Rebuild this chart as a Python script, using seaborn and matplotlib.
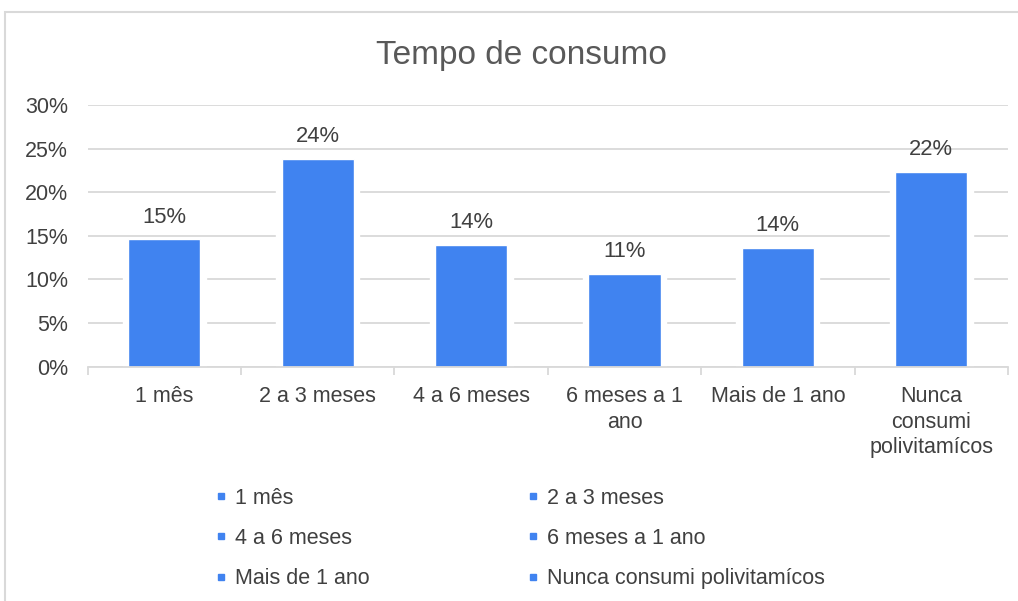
import matplotlib
matplotlib.use("Agg")
import matplotlib.pyplot as plt
from matplotlib.lines import Line2D
from matplotlib.patches import Rectangle
from matplotlib.ticker import PercentFormatter, FixedLocator
import seaborn as sns
import pandas as pd

# Data
categories = ["1 mês", "2 a 3 meses", "4 a 6 meses", "6 meses a 1 ano",
              "Mais de 1 ano", "Nunca consumi polivitamícos"]
tick_labels = ["1 mês", "2 a 3 meses", "4 a 6 meses", "6 meses a 1\nano",
               "Mais de 1 ano", "Nunca\nconsumi\npolivitamícos"]
shares = [0.146, 0.238, 0.140, 0.106, 0.136, 0.223]

title = "Tempo de consumo"
bar_color = "#4083F0"
text_color = "#404040"
grid_color = "#D9D9D9"

sns.set_theme(style="white")
plt.rcParams["font.family"] = ["Liberation Sans", "DejaVu Sans"]

df = pd.DataFrame({"categoria": categories, "valor": shares})

fig = plt.figure(figsize=(10.18, 6.01), dpi=100)
ax = fig.add_axes([0.0861, 0.3899, 0.904, 0.4354])

# white halo behind each bar so gridlines stop short of the bars
sns.barplot(data=df, x="categoria", y="valor", color="white", width=0.54,
            saturation=1, ax=ax, zorder=2)
sns.barplot(data=df, x="categoria", y="valor", color=bar_color, width=0.47,
            saturation=1, ax=ax, zorder=3)

bars = ax.containers[1]
ax.bar_label(bars, labels=[f"{v:.0%}" for v in shares], padding=8.5,
             fontsize=15.8, color=text_color, zorder=4)

ax.set_ylim(0, 0.30)
ax.set_xlim(-0.5, len(categories) - 0.5)
ax.yaxis.set_major_formatter(PercentFormatter(1.0, decimals=0))
ax.set_yticks([0, 0.05, 0.10, 0.15, 0.20, 0.25, 0.30])
ax.yaxis.grid(True, color=grid_color, linewidth=1.3, zorder=0)
ax.set_axisbelow(True)
ax.tick_params(axis="y", length=0, pad=14, labelsize=15.5, labelcolor=text_color)

ax.set_xticks(range(len(categories)))
ax.set_xticklabels(tick_labels, linespacing=1.28)
ax.tick_params(axis="x", which="major", length=0, pad=14, labelsize=15.5,
               labelcolor=text_color)
ax.xaxis.set_minor_locator(FixedLocator([i - 0.5 for i in range(len(categories) + 1)]))
ax.tick_params(axis="x", which="minor", length=6, width=1.3, color=grid_color,
               bottom=True, direction="out")

ax.set_xlabel("")
ax.set_ylabel("")
for side in ["top", "right", "left"]:
    ax.spines[side].set_visible(False)
ax.spines["bottom"].set_color(grid_color)
ax.spines["bottom"].set_linewidth(1.3)
ax.spines["bottom"].set_zorder(5)

fig.text(0.512, 0.908, title, ha="center", va="center", fontsize=24,
         color="#595959")

# legend laid out row by row in two columns
handles = [Line2D([], [], linestyle="none", marker="s", markersize=4.5,
                  color=bar_color) for _ in categories]
order = [0, 2, 4, 1, 3, 5]
fig.legend([handles[i] for i in order], [categories[i] for i in order],
           loc="upper left", bbox_to_anchor=(0.203, 0.203), ncol=2,
           frameon=False, fontsize=15.5, labelcolor=text_color,
           handlelength=0.5, handletextpad=0.4, columnspacing=7.35,
           labelspacing=0.9, borderaxespad=0)

# chart area frame
fig.add_artist(Rectangle((5 / 1018, -0.1), 2.0, 1.1 - 12 / 601,
                         transform=fig.transFigure, fill=False,
                         edgecolor="#D9D9D9", linewidth=1.5))

fig.savefig("out.png", dpi=100, facecolor="white")
